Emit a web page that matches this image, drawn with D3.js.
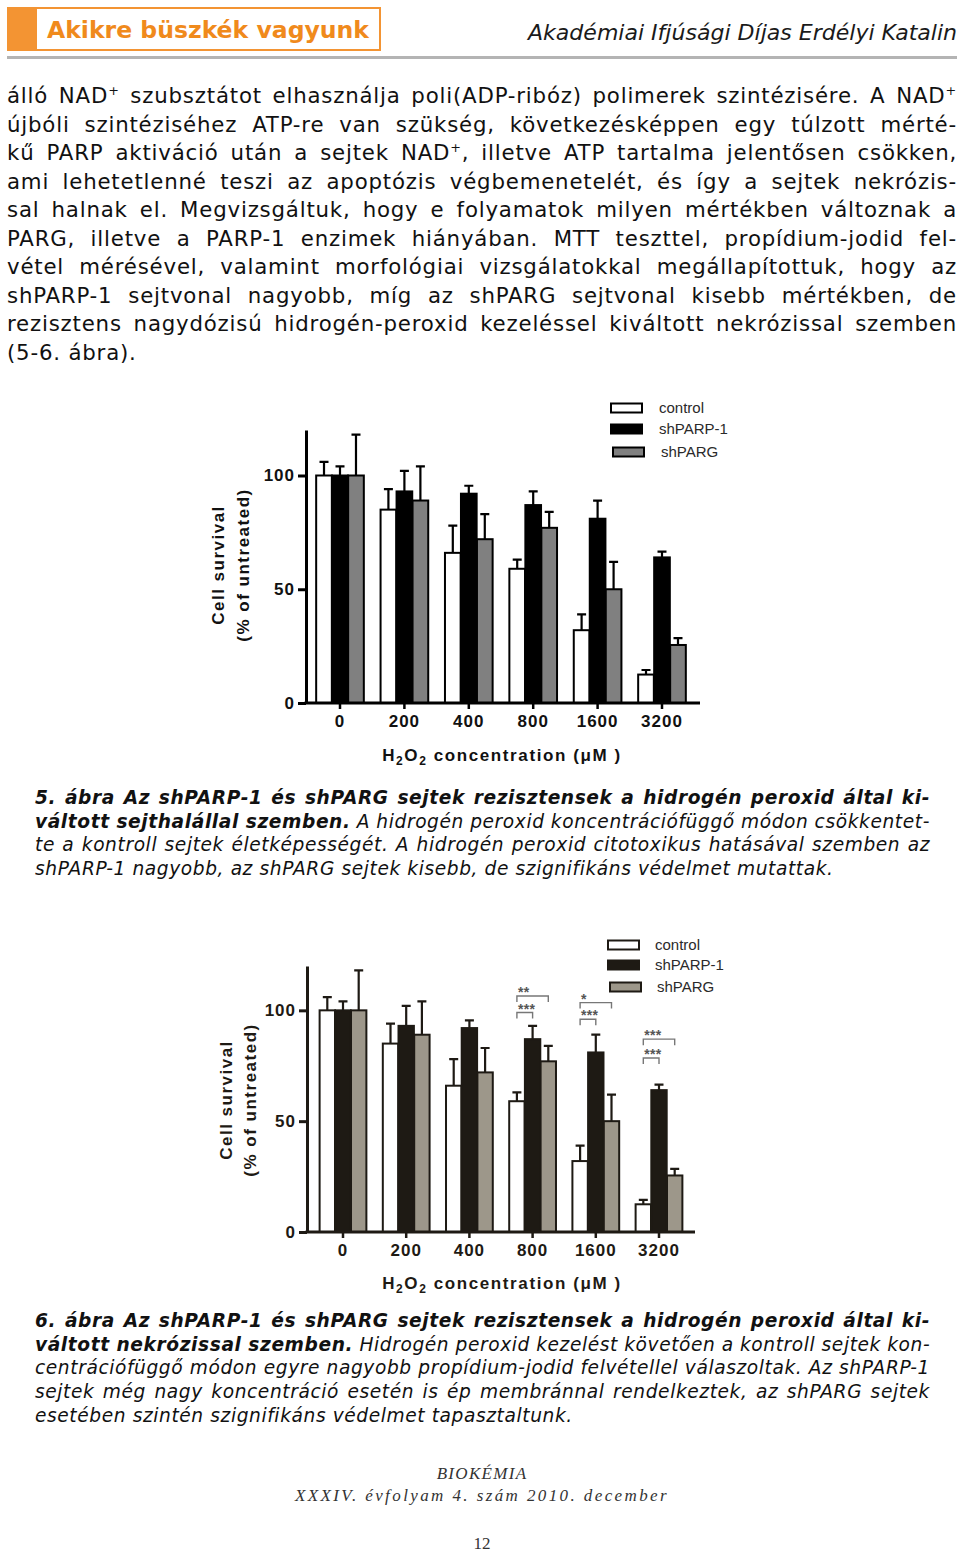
<!DOCTYPE html>
<html>
<head>
<meta charset="utf-8">
<script src="https://cdn.jsdelivr.net/npm/d3@7"></script>
<style>
body { margin: 0; background: #fff; }
#page { position: relative; width: 960px; height: 1552px; overflow: hidden; }
#page svg { position: absolute; left: 0; top: 0; }
.ln { position: absolute; white-space: nowrap; color: #111; }
.body { font-family: "DejaVu Sans", sans-serif; font-size: 21.3px; line-height: 21px; letter-spacing: 0.8px; }
.cap { font-family: "DejaVu Sans", sans-serif; font-size: 18.6px; line-height: 19px; font-style: italic; letter-spacing: 0.6px; }
.cap b { font-weight: bold; }
sup { font-size: 0.6em; vertical-align: 0.6em; line-height: 0; }
</style>
</head>
<body>
<div id="page"></div>
<script>
// chart data
var concentrations = ["0", "200", "400", "800", "1600", "3200"];
var seriesNames = ["control", "shPARP-1", "shPARG"];
var controlMean = [100, 85, 66, 59, 32, 12.5];
var controlErr = [6, 9, 12, 4, 7, 2];
var parp1Mean = [100, 93, 92, 87, 81, 64];
var parp1Err = [4, 9, 3.5, 6, 8, 2.5];
var pargMean = [100, 89, 72, 77, 50, 25.5];
var pargErr = [18, 15, 11, 7, 12, 3];
var yTicks = [0, 50, 100];

// significance brackets of figure 6
var sigConc = ["800", "800", "1600", "1600", "3200", "3200"];
var sigTarget = ["shPARG", "shPARP-1", "shPARG", "shPARP-1", "shPARG", "shPARP-1"];
var sigLevel = [106.5, 99, 103.5, 96, 87, 78.5];
var sigLabel = ["**", "***", "*", "***", "***", "***"];

// page text
var bodyLines = [
  "álló NAD<sup>+</sup> szubsztátot elhasználja poli(ADP-ribóz) polimerek szintézisére. A NAD<sup>+</sup>",
  "újbóli szintéziséhez ATP-re van szükség, következésképpen egy túlzott mérté-",
  "kű PARP aktiváció után a sejtek NAD<sup>+</sup>, illetve ATP tartalma jelentősen csökken,",
  "ami lehetetlenné teszi az apoptózis végbemenetelét, és így a sejtek nekrózis-",
  "sal halnak el. Megvizsgáltuk, hogy e folyamatok milyen mértékben változnak a",
  "PARG, illetve a PARP-1 enzimek hiányában. MTT teszttel, propídium-jodid fel-",
  "vétel mérésével, valamint morfológiai vizsgálatokkal megállapítottuk, hogy az",
  "shPARP-1 sejtvonal nagyobb, míg az shPARG sejtvonal kisebb mértékben, de",
  "rezisztens nagydózisú hidrogén-peroxid kezeléssel kiváltott nekrózissal szemben",
  "(5-6. ábra)."
];
var caption5 = [
  ["5. ábra Az shPARP-1 és shPARG sejtek rezisztensek a hidrogén peroxid által ki-", ""],
  ["váltott sejthalállal szemben.", " A hidrogén peroxid koncentrációfüggő módon csökkentet-"],
  ["", "te a kontroll sejtek életképességét. A hidrogén peroxid citotoxikus hatásával szemben az"],
  ["", "shPARP-1 nagyobb, az shPARG sejtek kisebb, de szignifikáns védelmet mutattak."]
];
var caption6 = [
  ["6. ábra Az shPARP-1 és shPARG sejtek rezisztensek a hidrogén peroxid által ki-", ""],
  ["váltott nekrózissal szemben.", "  Hidrogén peroxid kezelést követően a kontroll sejtek kon-"],
  ["", "centrációfüggő módon egyre nagyobb propídium-jodid felvétellel válaszoltak. Az shPARP-1"],
  ["", "sejtek még nagy koncentráció esetén is ép membránnal rendelkeztek, az shPARG sejtek"],
  ["", "esetében szintén szignifikáns védelmet tapasztaltunk."]
];

var means = [controlMean, parp1Mean, pargMean];
var errs = [controlErr, parp1Err, pargErr];
var rows = concentrations.map(function(c, i) {
  return { c: c, vals: seriesNames.map(function(s, j) {
    return { s: s, v: means[j][i], e: errs[j][i] };
  }) };
});

var page = d3.select("#page");
var svg = page.append("svg").attr("width", 960).attr("height", 1552);

// header
svg.append("rect").attr("x", 7).attr("y", 7).attr("width", 29).attr("height", 44).attr("fill", "#f39433");
svg.append("rect").attr("x", 36).attr("y", 8).attr("width", 344).attr("height", 42)
  .attr("fill", "none").attr("stroke", "#f39433").attr("stroke-width", 2);
svg.append("text").attr("x", 47).attr("y", 38)
  .attr("font-family", "DejaVu Sans Condensed, DejaVu Sans").attr("font-weight", "bold")
  .attr("font-size", 23).attr("fill", "#f08a1c")
  .attr("textLength", 322).attr("lengthAdjust", "spacingAndGlyphs")
  .text("Akikre büszkék vagyunk");
svg.append("text").attr("x", 528).attr("y", 40)
  .attr("font-family", "DejaVu Sans Condensed, DejaVu Sans").attr("font-style", "italic")
  .attr("font-size", 21).attr("fill", "#1a1a1a")
  .attr("textLength", 429).attr("lengthAdjust", "spacingAndGlyphs")
  .text("Akadémiai Ifjúsági Díjas Erdélyi Katalin");
svg.append("rect").attr("x", 7).attr("y", 56).attr("width", 950).attr("height", 3).attr("fill", "#b4b4b4");

// text lines, justified by measuring each line and spreading the spaces
function addLines(lines, cls, left, width, firstY, step, fs, isCaption) {
  lines.forEach(function(l, i) {
    var d = page.append("div")
      .attr("class", "ln " + cls)
      .style("left", left + "px")
      .style("top", (firstY + i * step - 0.55 * fs) + "px");
    var sp = d.append("span");
    if (isCaption) {
      if (l[0]) sp.append("b").text(l[0]);
      if (l[1]) sp.append("span").text(l[1]);
    } else {
      sp.html(l);
    }
    if (i < lines.length - 1) {
      var w = sp.node().getBoundingClientRect().width;
      var n = (sp.node().textContent.match(/ /g) || []).length;
      if (n > 0) d.style("word-spacing", ((width - w) / n) + "px");
    }
  });
}
addLines(bodyLines, "body", 7, 950, 97, 28.45, 21, false);
addLines(caption5, "cap", 35, 895, 798, 23.7, 18.5, true);
addLines(caption6, "cap", 35, 895, 1321, 23.8, 18.5, true);

// bar chart
function drawChart(o) {
  var g = svg.append("g");
  var y = d3.scaleLinear().domain([0, 120]).range([o.y0, o.yTop]);
  var step = (o.xLast - o.xFirst) / (concentrations.length - 1);
  var x0 = d3.scaleBand().domain(concentrations)
    .range([o.xFirst - step / 2, o.xLast + step / 2])
    .paddingInner(0.25).paddingOuter(0.125);
  var x1 = d3.scaleBand().domain(seriesNames).range([0, x0.bandwidth()]).padding(0.02);
  var color = d3.scaleOrdinal().domain(seriesNames).range(o.colors);
  var font = "Liberation Sans, Arial, sans-serif";

  var groups = g.selectAll("g.grp").data(rows).enter().append("g")
    .attr("class", "grp")
    .attr("transform", function(d) { return "translate(" + x0(d.c) + ",0)"; });

  groups.selectAll("rect").data(function(d) { return d.vals; }).enter().append("rect")
    .attr("x", function(d) { return x1(d.s); })
    .attr("y", function(d) { return y(d.v); })
    .attr("width", x1.bandwidth())
    .attr("height", function(d) { return y(0) - y(d.v); })
    .attr("fill", function(d) { return color(d.s); })
    .attr("stroke", o.stroke).attr("stroke-width", 2);

  // upper error bars
  groups.selectAll("path.err").data(function(d) { return d.vals; }).enter().append("path")
    .attr("class", "err")
    .attr("d", function(d) {
      var cx = x1(d.s) + x1.bandwidth() / 2;
      return "M" + cx + "," + y(d.v) + "V" + y(d.v + d.e) + "M" + (cx - 4.5) + "," + y(d.v + d.e) + "H" + (cx + 4.5);
    })
    .attr("fill", "none").attr("stroke", o.stroke).attr("stroke-width", 2.2);

  // axes
  var yAxis = g.append("g").attr("transform", "translate(" + o.axisX + ",0)")
    .call(d3.axisLeft(y).tickValues(yTicks).tickSize(8).tickSizeOuter(0).tickPadding(3));
  yAxis.select(".domain").attr("stroke", o.stroke).attr("stroke-width", 3);
  yAxis.selectAll(".tick line").attr("stroke", o.stroke).attr("stroke-width", 3);
  yAxis.selectAll(".tick text").attr("font-family", font).attr("font-weight", "bold")
    .attr("font-size", 17).attr("letter-spacing", 1).attr("fill", o.text);

  var xAxis = g.append("g").attr("transform", "translate(0," + o.y0 + ")")
    .call(d3.axisBottom(x0).tickSize(6).tickSizeOuter(0).tickPadding(6));
  xAxis.select(".domain").attr("d", "M" + (o.axisX - 1.5) + ",0H" + o.axisRight)
    .attr("stroke", o.stroke).attr("stroke-width", 3);
  xAxis.selectAll(".tick line").attr("stroke", o.stroke).attr("stroke-width", 2.5);
  xAxis.selectAll(".tick text").attr("font-family", font).attr("font-weight", "bold")
    .attr("font-size", 17).attr("letter-spacing", 1).attr("fill", o.text);

  // axis titles
  var xl = g.append("text").attr("x", o.xLabelX).attr("y", o.xLabelY)
    .attr("text-anchor", "middle").attr("font-family", font).attr("font-weight", "bold")
    .attr("font-size", 17).attr("letter-spacing", 1.6).attr("fill", o.text);
  xl.append("tspan").text("H");
  xl.append("tspan").attr("font-size", 12).attr("dy", 4).text("2");
  xl.append("tspan").attr("dy", -4).text("O");
  xl.append("tspan").attr("font-size", 12).attr("dy", 4).text("2");
  xl.append("tspan").attr("dy", -4).text(" concentration (μM )");

  [["Cell survival", o.yLabelX1], ["(% of untreated)", o.yLabelX2]].forEach(function(t) {
    g.append("text").attr("transform", "translate(" + t[1] + "," + o.yLabelY + ") rotate(-90)")
      .attr("text-anchor", "middle").attr("dy", "0.35em")
      .attr("font-family", font).attr("font-weight", "bold").attr("font-size", 17)
      .attr("letter-spacing", 1.5).attr("fill", o.text).text(t[0]);
  });

  // legend
  var leg = g.selectAll("g.leg").data(seriesNames).enter().append("g").attr("class", "leg");
  leg.append("rect")
    .attr("x", function(d, i) { return o.legendX + (i === 2 ? 2 : 0); })
    .attr("y", function(d, i) { return o.legendY[i] - 4.5; })
    .attr("width", 31).attr("height", 9)
    .attr("fill", function(d) { return color(d); })
    .attr("stroke", o.stroke).attr("stroke-width", 2);
  leg.append("text")
    .attr("x", function(d, i) { return o.legendTextX + (i === 2 ? 2 : 0); })
    .attr("y", function(d, i) { return o.legendY[i]; })
    .attr("dy", "0.35em").attr("font-family", font).attr("font-size", 15)
    .attr("fill", "#2a2a2a").text(function(d) { return d; });

  // significance brackets
  if (o.sig) {
    sigConc.forEach(function(c, k) {
      var xa = x0(c) + x1("control") + x1.bandwidth() / 2;
      var xb = x0(c) + x1(sigTarget[k]) + x1.bandwidth() / 2;
      var yy = y(sigLevel[k]);
      g.append("path")
        .attr("d", "M" + xa + "," + (yy + 6) + "V" + yy + "H" + xb + "V" + (yy + 6))
        .attr("fill", "none").attr("stroke", "#777").attr("stroke-width", 1.4);
      g.append("text").attr("x", xa + 1).attr("y", yy + 1)
        .attr("font-family", font).attr("font-weight", "bold").attr("font-size", 14)
        .attr("letter-spacing", 0.3).attr("fill", "#555").text(sigLabel[k]);
    });
  }
}

drawChart({
  y0: 703, yTop: 430, axisX: 306, axisRight: 700,
  xFirst: 340, xLast: 662,
  colors: ["#ffffff", "#000000", "#808080"], stroke: "#000", text: "#111",
  xLabelX: 502, xLabelY: 761, yLabelX1: 218, yLabelX2: 243, yLabelY: 565,
  legendX: 611, legendTextX: 659, legendY: [408, 429, 452],
  sig: false
});

drawChart({
  y0: 1232, yTop: 966, axisX: 307, axisRight: 695,
  xFirst: 343, xLast: 659,
  colors: ["#ffffff", "#1e1a14", "#9d978a"], stroke: "#1e1a14", text: "#1e1a14",
  xLabelX: 502, xLabelY: 1289, yLabelX1: 226, yLabelX2: 250, yLabelY: 1100,
  legendX: 608, legendTextX: 655, legendY: [945, 965, 987],
  sig: true
});

// footer
var serif = "Liberation Serif, Times New Roman, serif";
svg.append("text").attr("x", 482).attr("y", 1479).attr("text-anchor", "middle")
  .attr("font-family", serif).attr("font-style", "italic").attr("font-size", 17)
  .attr("letter-spacing", 1.3).attr("fill", "#333").text("BIOKÉMIA");
svg.append("text").attr("x", 482).attr("y", 1501).attr("text-anchor", "middle")
  .attr("font-family", serif).attr("font-style", "italic").attr("font-size", 17)
  .attr("letter-spacing", 2.4).attr("fill", "#333").text("XXXIV. évfolyam 4. szám 2010. december");
svg.append("text").attr("x", 482).attr("y", 1549).attr("text-anchor", "middle")
  .attr("font-family", serif).attr("font-size", 17).attr("fill", "#333").text("12");
</script>
</body>
</html>
